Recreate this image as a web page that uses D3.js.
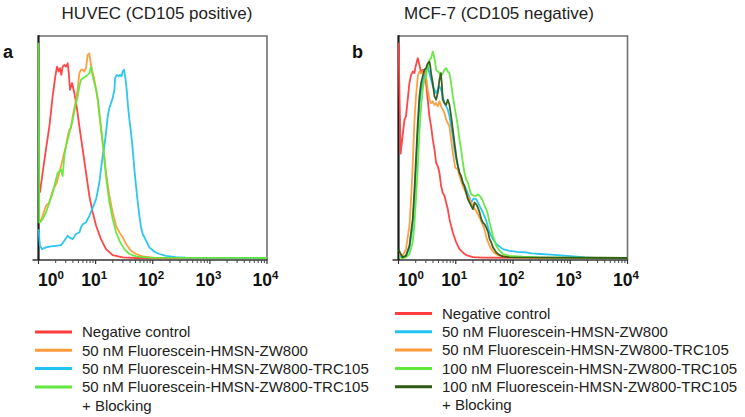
<!DOCTYPE html>
<html><head><meta charset="utf-8">
<script src="https://cdn.jsdelivr.net/npm/d3@7"></script>
<style>
body{margin:0;background:#fff}
svg{display:block}
text{font-family:"Liberation Sans",Arial,Helvetica,sans-serif}
</style>
</head><body>
<svg id="c" width="745" height="417"></svg>
<script>
// ---------- data ----------
const decadeExponents = [0, 1, 2, 3, 4];
const titles = ["HUVEC (CD105 positive)", "MCF-7 (CD105 negative)"];
const panelLetters = ["a", "b"];

const legendA = ["Negative control", "50 nM Fluorescein-HMSN-ZW800",
  "50 nM Fluorescein-HMSN-ZW800-TRC105", "50 nM Fluorescein-HMSN-ZW800-TRC105"];
const legendB = ["Negative control", "50 nM Fluorescein-HMSN-ZW800",
  "50 nM Fluorescein-HMSN-ZW800-TRC105", "100 nM Fluorescein-HMSN-ZW800-TRC105",
  "100 nM Fluorescein-HMSN-ZW800-TRC105"];
const legendExtra = "+ Blocking";

const colorsA = ["#ff3d3d", "#ff9a3a", "#22c3f0", "#62e83c"];
const colorsB = ["#ff3d3d", "#22c3f0", "#ff9a3a", "#62e83c", "#2f5a14"];

// Panel a: [fluorescence intensity, % of max]
const negA = [[1.06,29.4],[1.18,38.4],[1.35,48.9],[1.55,59.3],[1.77,72.8],[1.97,81.8],[2.11,86.2],[2.25,84],[2.38,85.5],[2.51,82.5],[2.65,86.2],[2.83,87],[3.03,86.2],[3.24,87.7],[3.37,84],[3.56,75.8],[3.86,78.8],[4.25,74.3],[4.66,68.3],[5.19,59.3],[5.93,48.9],[6.79,38.4],[7.76,28],[8.89,20.5],[10.2,14.5],[12.4,8.5],[15.2,4],[19.9,1.3],[29.8,0.3],[51,0],[10000,0]];
const zw800A = [[1.06,16],[1.18,19],[1.35,23.5],[1.55,25],[1.72,29.4],[1.89,31.7],[2.08,33.9],[2.32,38.4],[2.48,41.4],[2.72,45.9],[3.03,50.4],[3.24,54.9],[3.47,57.8],[3.71,58.6],[3.97,63.8],[4.42,69.8],[4.85,75.8],[5.19,83.3],[5.55,84.8],[5.93,84.8],[6.35,84],[6.79,85.5],[7.26,91.5],[7.76,92.2],[8.3,87],[8.89,83.3],[9.5,80.3],[10.2,75.8],[10.9,71.3],[11.6,65.3],[12.4,57.8],[13.3,51.9],[14.2,45.9],[15.2,38.4],[17.4,28],[19.9,20.5],[22.8,14.5],[26.1,11.5],[29.8,9.3],[34.1,6.3],[41.7,3.3],[51,1.8],[66.7,0.7],[100,0.15],[10000,0]];
const trcA = [[1.0,13],[1.06,5.5],[1.15,4],[1.35,4.8],[1.66,5.2],[2.02,5.5],[2.48,5.8],[2.83,7.8],[3.24,10],[3.47,9.3],[3.97,8.5],[4.54,10.8],[5.19,11.5],[5.55,13.8],[5.93,15.2],[6.79,16],[7.76,19],[8.89,22.7],[10.2,26.5],[11.6,33.9],[12.4,39.9],[13.3,45.9],[14.2,50.4],[15.2,56.4],[16.3,63.8],[17.4,67.6],[18.6,69.8],[19.9,72],[21.3,75.8],[21.9,81],[23.4,82.5],[25.3,81.8],[26.7,82.5],[28.2,81.8],[29.8,84],[31.4,84.8],[33.2,81],[35,75.8],[36.9,68.3],[39,62.3],[41.7,56.4],[44.6,48.9],[47.7,39.9],[51,32.4],[54.6,25],[58.3,19],[62.4,13.8],[66.7,10.8],[76.4,7.8],[87.3,4.8],[107,2.8],[131,1.8],[171,1],[256,0.4],[383,0.15],[10000,0]];
const blockA = [[1.0,97],[1.03,16],[1.06,16],[1.18,17.5],[1.35,20.5],[1.55,25],[1.77,29.4],[1.89,32.4],[2.02,35.4],[2.17,38.4],[2.32,39.2],[2.48,39.9],[2.65,36.9],[2.83,45.9],[3.03,50.4],[3.24,53.4],[3.47,56.4],[3.97,62.3],[4.42,68.3],[4.85,72.8],[5.19,77.3],[5.55,80.3],[5.93,81],[6.79,81.8],[7.76,83.3],[8.3,86.2],[8.89,81.8],[9.5,78.8],[10.2,75.8],[10.9,71.3],[11.6,65.3],[12.4,59.3],[13.3,51.9],[14.2,44.4],[15.2,36.9],[17.4,25],[19.9,17.5],[22.8,11.5],[26.1,7.8],[31.8,4],[39,1.8],[51,0.7],[87.3,0.15],[10000,0]];

// Panel b
const negB = [[1.0,97],[1.09,47],[1.18,54.9],[1.27,62.3],[1.35,63.8],[1.45,71.3],[1.55,78.8],[1.66,82.5],[1.77,84],[1.89,83.3],[2.02,87],[2.17,90],[2.32,87],[2.48,83.3],[2.65,84.8],[2.83,84],[3.03,78.8],[3.24,71.3],[3.47,63.8],[3.71,59.3],[3.97,53.4],[4.25,48.9],[4.54,42.9],[4.85,41.4],[5.19,38.4],[5.55,32.4],[5.93,29.4],[6.35,28],[6.79,25],[7.26,22],[7.76,17.5],[8.89,11.5],[10.2,7],[11.6,4],[13.3,2.5],[15.2,1.3],[19.9,0.4],[29.8,0.15],[10000,0]];
const zw800B = [[1.03,1],[1.18,0.3],[1.35,1],[1.55,4],[1.77,14.5],[1.89,26.5],[2.02,41.4],[2.17,56.4],[2.32,68.3],[2.48,75.8],[2.65,78.8],[2.83,81.8],[3.03,84.8],[3.24,86.2],[3.47,83.3],[3.71,80.3],[3.97,77.3],[4.25,75.8],[4.54,74.3],[4.85,75.8],[5.19,77.3],[5.55,75.8],[5.93,72.8],[6.35,69.8],[6.79,68.3],[7.26,66.8],[7.76,63.8],[8.3,59.3],[8.89,54.9],[9.5,48.9],[10.2,44.4],[10.9,41.4],[11.6,38.4],[13.3,33.9],[15.2,30.9],[17.4,27.2],[18.6,25],[20.5,26.8],[22.8,26.5],[26.1,23.5],[29.8,20.5],[34.1,16.7],[39,11.5],[44.6,8.5],[51,6.3],[66.7,4],[87.3,3.2],[120,2.8],[160,2.6],[210,2.1],[300,1.8],[450,1.5],[600,1.3],[900,1],[1300,0.6],[1800,0.3],[2500,0.1],[10000,0]];
const trc50B = [[1.03,1.8],[1.18,1],[1.35,4],[1.55,14.5],[1.66,26.5],[1.77,41.4],[1.89,60.8],[2.02,72.8],[2.17,81.8],[2.32,84],[2.48,83.3],[2.65,84],[2.83,84.8],[3.03,81.8],[3.24,75.8],[3.47,71.3],[3.71,69.8],[3.97,70.6],[4.25,69],[4.54,69.8],[4.85,68.3],[5.19,70.6],[5.55,68.3],[5.93,66.8],[6.35,65.3],[6.79,62.3],[7.26,60.8],[7.76,59.3],[8.3,53.4],[8.89,47.4],[9.8,40.7],[10.9,39.9],[11.6,36.9],[13.3,32.4],[15.6,28.7],[17.4,26.5],[19.9,23.5],[23.4,20.5],[26.1,18.2],[31,13.8],[35,8.5],[40,4.8],[46,2.5],[54.6,1.3],[76.4,0.6],[131,0.15],[10000,0]];
const trc100B = [[1.03,0.3],[1.18,0],[1.35,0.3],[1.55,1.8],[1.77,7],[1.89,14.5],[2.02,26.5],[2.17,41.4],[2.32,56.4],[2.48,68.3],[2.65,75.8],[2.83,80.3],[3.03,81.8],[3.24,86.2],[3.47,89.2],[3.71,90],[3.97,93],[4.25,90],[4.54,84.8],[4.85,84],[5.19,83.3],[5.55,81.8],[5.93,83.3],[6.35,84.8],[6.79,85.5],[7.26,84],[7.76,83.3],[8.3,78.8],[8.89,72.8],[9.5,68.3],[10.2,63.8],[10.9,59.3],[11.6,53.4],[12.4,48.9],[13.3,42.9],[14.2,38.4],[15.2,35.4],[16.3,33.9],[17.4,30.9],[18.6,28.7],[20.5,28],[22.8,28],[24.4,28.7],[26.1,28],[29,26.5],[31.8,23.5],[34.1,22],[36.9,19],[39,16],[41.7,13],[44.6,10],[47.7,7.8],[51,5.5],[58.3,3.3],[66.7,1.8],[87.3,1],[150,0.6],[290,0.3],[10000,0]];
const block100B = [[1.0,4],[1.06,2.5],[1.18,0.3],[1.35,1],[1.55,5.5],[1.77,17.5],[1.89,29.4],[2.02,44.4],[2.17,60.8],[2.32,72.8],[2.48,78.8],[2.65,81.8],[2.83,84.8],[3.03,85.5],[3.24,87.7],[3.47,88.5],[3.56,87],[3.71,83.3],[3.97,78.8],[4.25,72.8],[4.54,71.3],[4.85,74.3],[5.19,80.3],[5.48,83.3],[5.7,78.8],[5.93,71.3],[6.35,69.8],[6.79,69],[7.26,71.3],[7.76,69],[8.3,63.8],[8.89,57.8],[9.5,51.9],[10.2,45.9],[10.9,41.4],[11.6,38.4],[12.4,36.9],[13.3,33.9],[14.2,32.4],[15.2,29.4],[16.3,26.5],[17.4,25],[18.6,23.5],[19.9,22],[21.3,25],[22.8,24.2],[24.4,22.7],[26.1,20.5],[27.9,17.5],[29.8,16],[31.8,15.2],[34.1,13.8],[36.9,11.5],[39,8.5],[41.7,7],[44.6,4.8],[51,2.5],[58.3,1.3],[66.7,0.7],[87.3,0.3],[10000,0]];

// ---------- drawing ----------
const svg = d3.select("#c");

const panels = [
  {x0: 38.5, x1: 267, title: titles[0], titleX: 157, letter: panelLetters[0], letterX: 3,
   series: [negA, zw800A, trcA, blockA], colors: colorsA, drawOrder: [0, 1, 2, 3],
   legend: legendA, legendColors: colorsA, legX: 35, legY: 332},
  {x0: 398.5, x1: 627.5, title: titles[1], titleX: 499, letter: panelLetters[1], letterX: 352,
   series: [negB, zw800B, trc50B, trc100B, block100B], colors: colorsB, drawOrder: [0, 1, 2, 3, 4],
   legend: legendB, legendColors: colorsB, legX: 395, legY: 313.5}
];

const yTop = 36, yAxis = 260, yZero = 258;

panels.forEach(p => {
  const x = d3.scaleLog().domain([1, 1e4]).range([p.x0, p.x1]);
  const y = d3.scaleLinear().domain([0, 100]).range([yZero, yTop]);
  const g = svg.append("g");

  // title + letter
  g.append("text").attr("x", p.titleX).attr("y", 18.5).attr("text-anchor", "middle")
    .attr("font-size", 17).attr("fill", "#222").text(p.title);
  g.append("text").attr("x", p.letterX).attr("y", 58).attr("font-size", 18)
    .attr("font-weight", "bold").attr("fill", "#111").text(p.letter);

  // frame (top + right, gray)
  g.append("path").attr("d", `M${p.x0},${yTop}H${p.x1}V${yAxis}`)
    .attr("fill", "none").attr("stroke", "#707070").attr("stroke-width", 1.6);

  // bottom axis line + ticks
  g.append("line").attr("x1", p.x0 - 6).attr("x2", p.x1 + 0.5).attr("y1", yAxis).attr("y2", yAxis)
    .attr("stroke", "#333").attr("stroke-width", 1.6);
  const minor = [];
  decadeExponents.slice(0, -1).forEach(k => { for (let m = 2; m <= 9; m++) minor.push(m * Math.pow(10, k)); });
  g.selectAll(".mt").data(minor).join("line")
    .attr("x1", d => x(d)).attr("x2", d => x(d)).attr("y1", yAxis).attr("y2", yAxis + 3)
    .attr("stroke", "#444").attr("stroke-width", 1);
  const majors = decadeExponents.map(k => Math.pow(10, k));
  g.selectAll(".Mt").data(majors).join("line")
    .attr("x1", d => x(d)).attr("x2", d => x(d)).attr("y1", yAxis).attr("y2", yAxis + 4)
    .attr("stroke", "#333").attr("stroke-width", 1.2);

  // tick labels 10^k
  decadeExponents.forEach((k, i) => {
    const t = g.append("text").attr("y", 286).attr("font-weight", "bold").attr("fill", "#111")
      .attr("font-size", 17.5);
    if (i === 0) t.attr("x", p.x0 - 0.5).attr("text-anchor", "start");
    else t.attr("x", x(Math.pow(10, k)) - 1.5).attr("text-anchor", "middle");
    t.append("tspan").text("10");
    t.append("tspan").attr("dy", -7.5).attr("font-size", 11.5).text(String(k));
  });

  // left axis (black)
  g.append("line").attr("x1", p.x0).attr("x2", p.x0).attr("y1", yTop - 0.8).attr("y2", yAxis)
    .attr("stroke", "#1a1a1a").attr("stroke-width", 2.2);

  // histogram lines
  const line = d3.line().x(d => x(d[0])).y(d => y(d[1]));
  p.drawOrder.forEach(i => {
    g.append("path").datum(p.series[i]).attr("d", line)
      .attr("fill", "none").attr("stroke", p.colors[i]).attr("stroke-width", 1.8)
      .attr("stroke-linejoin", "round").attr("opacity", 0.95);
  });

  // legend
  const rowH = 18.3;
  p.legend.forEach((lab, i) => {
    const cy = p.legY + i * rowH;
    g.append("line").attr("x1", p.legX).attr("x2", p.legX + 37).attr("y1", cy).attr("y2", cy)
      .attr("stroke", p.legendColors[i]).attr("stroke-width", 3);
    g.append("text").attr("x", p.legX + 47).attr("y", cy + 5.3).attr("font-size", 15)
      .attr("fill", "#222").text(lab);
  });
  g.append("text").attr("x", p.legX + 47).attr("y", p.legY + p.legend.length * rowH + 5.3)
    .attr("font-size", 15).attr("fill", "#222").text(legendExtra);
});
</script>
</body></html>
